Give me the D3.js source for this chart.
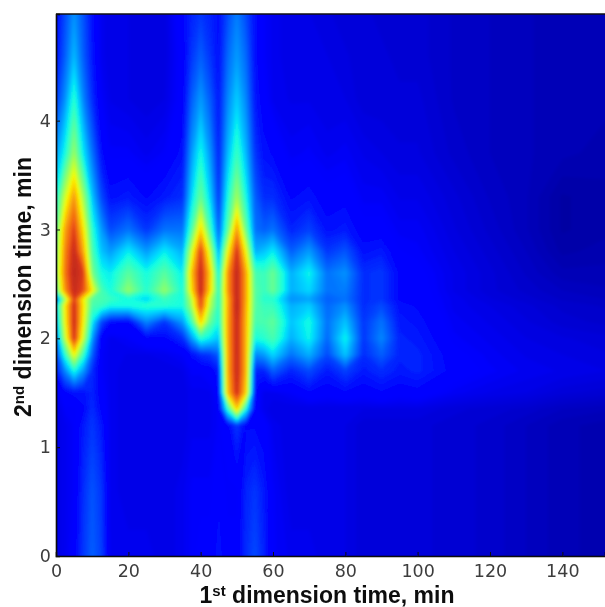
<!DOCTYPE html>
<html><head><meta charset="utf-8">
<script src="https://cdn.jsdelivr.net/npm/d3@7"></script>
<style>html,body{margin:0;padding:0;background:#fff}svg{display:block}</style>
</head><body><svg id="c" width="605" height="607"></svg>
<script>
const xTicks = [0,20,40,60,80,100,120,140];
const yTicks = [0,1,2,3,4];
const xLabelMain = " dimension time, min";
const yLabelMain = " dimension time, min";
// 2nd-dimension sample times (bottom to top)
const secondTimes = [0,0.6,1.2,1.35,1.5,1.7,1.85,2.0,2.15,2.3,2.36,2.44,2.6,2.8,3.0,3.3,3.7,4.2,4.6,5.0];
// 1st-dimension sample times
const firstTimes = [0,2.5,5,7.5,10,12.5,15,20,25,30,35,37.5,40,42.5,45,47.5,50,52.5,55,57.5,60,65,70,75,80,85,90,95,100,110,120,130,140,152];
// Signal (percent of colour range) along each 1st-dimension time
const c000 = [9,9,9,9,10,15,18,22,28,32,20,45,52,50,46,38,28,18,14,13];
const c025 = [10,10,10,11,13,26,40,58,64,66,55,78,82,80,76,60,38,27,22,20];
const c050 = [12,11,11,11,14,38,65,92,94,93,90,95,97,95,90,78,54,40,31,27];
const c075 = [18,17,15,13,14,28,42,60,66,68,66,88,90,76,68,55,36,26,22,21];
const c100 = [22,21,18,17,16,17,22,28,36,44,46,66,50,44,40,32,24,17,15,14];
const c125 = [19,18,15,13,12,11,11,12,20,42,44,44,38,32,28,20,14,11,10,10];
const c150 = [10,10,10,10,10,10,10,10,14,38,42,38,36,28,20,14,11,9.5,9,9];
const c200 = [10,9,9,9,9,9,9.5,11,13,38,38,53,46,36,24,15,11,9,9,9];
const c250 = [10,9,9,9,9,9,9.5,13,26,40,34,40,38,28,18,13,10,8.5,8.5,8.5];
const c300 = [9,9,9,9,9,9,10,13,18,40,42,53,46,36,24,15,11,9,8.5,8.5];
const c350 = [10,10,9,9,9,9.5,11,17,28,38,38,38,36,30,24,17,14,12,12,13];
const c375 = [11,11,10,10,10,11,14,28,42,55,58,68,72,60,44,34,28,22,18,16];
const c400 = [12,11,10,10,10,11,17,40,70,88,90,95,95,90,70,48,38,28,22,18];
const c425 = [12,11,10,10,10,12,18,36,48,58,60,70,72,60,44,34,28,22,18,16];
const c450 = [14,13,11,11,12,15,22,32,38,40,40,40,36,28,22,18,16,15,14,14];
const c475 = [12,11,13,40,72,75,75,76,76,75,75,78,78,64,46,38,31,26,23,20];
const c500 = [12,11,18,70,93,95,95,95,95,97,96,96,96,92,78,55,42,33,28,25];
const c525 = [17,16,13,38,70,74,74,74,74,75,76,76,76,64,48,38,31,26,23,20];
const c550 = [20,18,13,12,13,16,26,38,44,46,46,46,44,30,24,22,18,15,14,14];
const c575 = [16,15,12,10,10,16,28,40,44,42,40,42,42,32,22,17,14,12,11,11];
const c600 = [11,11,10,9,10,22,34,44,47,42,40,48,48,36,24,17,13,10,10,10];
const c650 = [10,9,9,9,11,16,24,30,32,30,27,30,30,22,16,13,10.5,9.5,9,9];
const c700 = [10,9,9,9,13,20,30,37,38,33,29,34,37,28,19,14,11,9.5,9,9];
const c750 = [9,9,9,9,12,15,20,23,24,23,22,24,24,18,14,12,10,9,9,8.5];
const c800 = [9,9,9,9,13,19,32,37,32,27,24,25,27,21,15,12.5,10.5,9,8.5,8];
const c850 = [8,8,8,9,12,15,17,18,18,17,17,17,17,14,12,10.5,9.5,8,8,8];
const c900 = [8,8,8,9,13,17,22,26,24,20,18,18,18,15,12,10.5,9,8,8,7.5];
const c950 = [8,8,8,9,12,15,16,16,15,14,13,13,13,11.5,10.5,9.5,8.5,8,7.5,7.5];
const c1000 = [8,8,8,9,12.5,16,16,15,14,13,12.5,12.5,12,11,10.5,9.5,8.5,8,7.5,7.5];
const c1100 = [7.5,7.5,7.5,8,10.5,12.5,12,11,10.5,10,10,9.5,9.5,9,8.5,8,7,6.5,6.5,6.5];
const c1200 = [7,7,7,7.5,9.5,11,10.5,10,9.5,9,8.5,8,8,7.5,7,6.5,6,6,6,6];
const c1300 = [6,6,6,7,9,10,9.5,9,8.5,8,7.5,7,6.5,6,5.5,5.5,5.5,5.5,5.5,5.5];
const c1400 = [5,5,5,6,8,9.5,9,8.5,7.5,7,6.5,6,5,4,3.5,3.5,5,5,5,5];
const c1520 = [4.5,4.5,4.5,5.5,7.5,9,8.5,8,7,6.5,6,5.5,5,4.5,4,4,4.5,5,5,5];
const signalColumns = [c000,c025,c050,c075,c100,c125,c150,c200,c250,c300,c350,c375,c400,c425,c450,c475,c500,c525,c550,c575,c600,c650,c700,c750,c800,c850,c900,c950,c1000,c1100,c1200,c1300,c1400,c1520];

const L=56,R=605,T=14,B=556;
const x=d3.scaleLinear().domain([0,151.8]).range([L,R]);
const y=d3.scaleLinear().domain([0,4.98]).range([B,T]);

// jet colour map, with the muted reds of the picture
const rC=d3.scaleLinear().domain([0,.35,.66,.85,1]).range([0,0,1,.95,.68]).clamp(true);
const gC=d3.scaleLinear().domain([0,.125,.375,.64,.91,1]).range([0,0,1,1,.2,.15]).clamp(true);
const bC=d3.scaleLinear().domain([0,.11,.34,.65,.9,1]).range([.5,1,1,0,.1,.14]).clamp(true);
const jet=v=>{const t=v/100;return `rgb(${Math.round(255*rC(t))},${Math.round(255*gC(t))},${Math.round(255*bC(t))})`;};

const nx=firstTimes.length, ny=secondTimes.length;
const values=new Array(nx*ny);
signalColumns.forEach((col,i)=>col.forEach((v,j)=>{values[i+j*nx]=v;}));

const ix=d3.scaleLinear().domain(d3.range(nx)).range(firstTimes);
const iy=d3.scaleLinear().domain(d3.range(ny)).range(secondTimes);
const levels=d3.range(3,100,0.6);
const contours=d3.contours().size([nx,ny]).smooth(true).thresholds(levels)(values);
const project=d3.geoTransform({point(px,py){
  this.stream.point(x(ix(px-0.5)),y(iy(py-0.5)));
}});
const path=d3.geoPath(project);

const svg=d3.select("#c");
const defs=svg.append("defs");
defs.append("clipPath").attr("id","plot").append("rect").attr("x",L).attr("y",T).attr("width",R-L).attr("height",B-T);
defs.append("filter").attr("id","soft").attr("x","-5%").attr("y","-5%").attr("width","110%").attr("height","110%")
  .append("feGaussianBlur").attr("stdDeviation",1.7);
defs.append("filter").attr("id","softText").attr("x","-10%").attr("y","-20%").attr("width","120%").attr("height","140%")
  .append("feGaussianBlur").attr("stdDeviation",0.45);

const plot=svg.append("g").attr("clip-path","url(#plot)");
const inner=plot.append("g").attr("filter","url(#soft)");
inner.append("rect").attr("x",L-20).attr("y",T-20).attr("width",R-L+40).attr("height",B-T+40).attr("fill",jet(3));
inner.selectAll("path").data(contours).join("path").attr("d",path).attr("fill",d=>jet(d.value));

const fmtTick=d3.format("d");
const axes=svg.append("g").attr("filter","url(#softText)");
const gx=axes.append("g").attr("transform",`translate(0,${B})`)
  .call(d3.axisBottom(x).tickValues(xTicks).tickFormat(fmtTick).tickSize(-4).tickPadding(9));
const gy=axes.append("g").attr("transform",`translate(${L},0)`)
  .call(d3.axisLeft(y).tickValues(yTicks).tickFormat(fmtTick).tickSize(-4).tickPadding(5));
[gx,gy].forEach(g=>{
  g.select(".domain").attr("stroke","#111").attr("stroke-width",1.6);
  g.selectAll(".tick line").attr("stroke","#111");
  g.selectAll("text").attr("font-family","DejaVu Sans").attr("font-size",17.5).attr("fill","#3c3c3c");
});
axes.append("line").attr("x1",L).attr("x2",R).attr("y1",T).attr("y2",T).attr("stroke","#111").attr("stroke-width",1.6);

const labels=svg.append("g").attr("filter","url(#softText)").attr("font-family","Liberation Sans").attr("font-weight","bold").attr("font-size",23).attr("fill","#111");
function lab(sel,ord,suf,main){
  sel.append("tspan").text(ord);
  sel.append("tspan").text(suf).attr("font-size",15).attr("dy",-7);
  sel.append("tspan").text(main).attr("dy",7);
}
const xl=labels.append("text").attr("x",327).attr("y",603).attr("text-anchor","middle");
lab(xl,"1","st",xLabelMain);
const yl=labels.append("text").attr("transform","translate(31,287) rotate(-90)").attr("text-anchor","middle");
lab(yl,"2","nd",yLabelMain);
</script></body></html>
